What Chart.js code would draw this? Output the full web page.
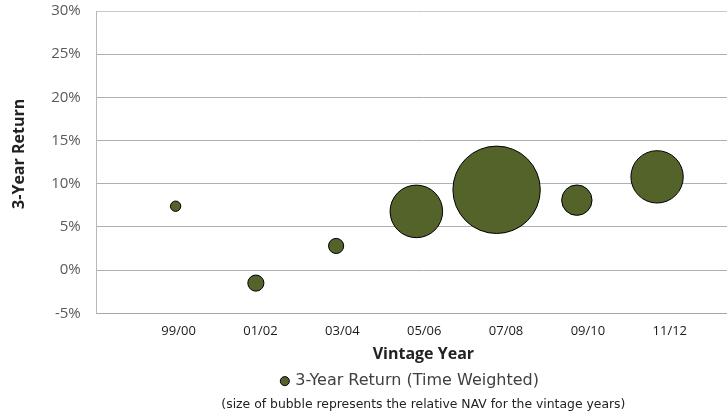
<!DOCTYPE html>
<html>
<head>
<meta charset="utf-8">
<script src="https://cdn.jsdelivr.net/npm/chart.js@4.4.1/dist/chart.umd.min.js"></script>
<style>
  html, body { margin: 0; padding: 0; background: #fff; }
  #wrap { width: 727px; height: 412px; overflow: hidden; position: relative; }
  #chart { display: block; }
</style>
</head>
<body>
<div id="wrap"><canvas id="chart" width="750" height="412"></canvas></div>
<script>
// Vintage-year buckets and their 3-year time-weighted returns (%)
const vintages = ['99/00', '01/02', '03/04', '05/06', '07/08', '09/10', '11/12'];
const returns3y = [7.4, -1.5, 2.8, 6.8, 9.3, 8.1, 10.8];
// Relative NAV per vintage (largest vintage = 100); drives bubble area
const relativeNav = [1.4, 3.4, 3.0, 36.2, 100, 12.1, 35.9];
// Y-axis tick values (%)
const yTicks = [-5, 0, 5, 10, 15, 20, 25, 30];

const MAX_RADIUS = 43.7; // radius of the largest bubble, px
const maxNav = Math.max(...relativeNav);

const points = vintages.map((v, i) => ({
  x: i + 1,
  y: returns3y[i],
  r: MAX_RADIUS * Math.sqrt(relativeNav[i] / maxNav)
}));

new Chart(document.getElementById('chart'), {
  type: 'bubble',
  data: {
    datasets: [{
      label: '3-Year Return (Time Weighted)     ',
      data: points,
      backgroundColor: '#53632a',
      borderColor: '#000000',
      borderWidth: 1,
      clip: false
    }]
  },
  options: {
    responsive: false,
    animation: false,
    events: [],
    layout: { autoPadding: false, padding: { top: 11, right: 0, bottom: 0, left: 10 } },
    plugins: {
      tooltip: { enabled: false },
      legend: {
        position: 'bottom',
        fullSize: false,
        labels: {
          usePointStyle: true,
          pointStyle: 'circle',
          boxWidth: 5,
          boxHeight: 6.4,
          padding: 4,
          color: '#404040',
          font: { family: 'DejaVu Sans', size: 16 }
        }
      },
      subtitle: {
        display: true,
        position: 'bottom',
        fullSize: false,
        text: '(size of bubble represents the relative NAV for the vintage years)',
        color: '#222',
        font: { family: 'DejaVu Sans', size: 12.4 },
        padding: { top: -2, bottom: 0 }
      }
    },
    scales: {
      // value axis for the bubbles (draws the baseline only)
      x: {
        type: 'linear',
        position: 'bottom',
        min: 0.017,
        max: 8.158,
        ticks: { display: false },
        grid: { display: false, drawTicks: false },
        border: { display: true, color: '#a6a6a6', width: 1 }
      },
      // vintage labels and axis title
      xLabels: {
        type: 'linear',
        position: 'bottom',
        min: 0,
        max: 7.98,
        afterBuildTicks: (axis) => {
          axis.ticks = vintages.map((v, i) => ({ value: i + 1 }));
        },
        ticks: {
          callback: (val) => vintages[Math.round(val) - 1] ?? '',
          color: '#1a1a1a',
          font: { family: 'Open Sans', size: 13 },
          padding: 10,
          maxRotation: 0,
          autoSkip: false
        },
        grid: { display: false, drawTicks: false },
        border: { display: false },
        title: {
          display: true,
          text: 'Vintage Year',
          color: '#222',
          font: { family: 'Open Sans', size: 16, weight: 'bold' },
          padding: { top: -4, bottom: 5 }
        }
      },
      y: {
        min: -5,
        max: 30,
        afterBuildTicks: (axis) => {
          axis.ticks = yTicks.map(v => ({ value: v }));
        },
        afterFit: (axis) => { axis.paddingTop = 0; axis.paddingBottom = 0; },
        ticks: {
          callback: (val) => val + '%',
          color: '#595959',
          font: { family: 'Open Sans', size: 15 },
          padding: 16
        },
        grid: {
          color: (ctx) => (ctx.tick && ctx.tick.value === 30 ? '#c8c8c8' : '#b0b0b0'),
          lineWidth: 1,
          drawTicks: false
        },
        border: { display: true, color: '#b8b8b8', width: 1 },
        title: {
          display: true,
          text: '    3-Year Return',
          color: '#222',
          font: { family: 'Open Sans', size: 16, weight: 'bold' },
          padding: { top: 0, bottom: 6 }
        }
      }
    }
  }
});
</script>
</body>
</html>
